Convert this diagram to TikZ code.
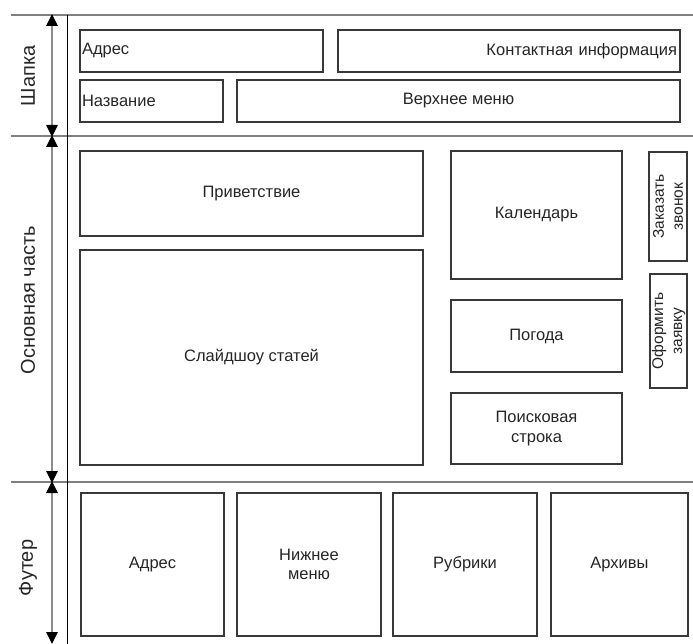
\documentclass[tikz,border=0pt]{standalone}
\usepackage{fontspec}
\setmainfont{Liberation Sans}
\usetikzlibrary{arrows.meta}
\begin{document}
\begin{tikzpicture}[x=1pt,y=-1pt,
  box/.style={draw=black!78, line width=1.6pt, fill=white, inner sep=2pt, font=\fontsize{16.5}{19.5}\selectfont, text=black!85},
  vbox/.style={box, rotate=90, inner sep=0pt, align=center, font=\fontsize{15.5}{19}\selectfont},
  sep/.style={draw=black!50, line width=1.6pt},
  vline/.style={draw=black, line width=1pt},
  dim/.style={draw=black!45, line width=2.6pt, {Triangle[black,length=12pt,width=11pt]}-{Triangle[black,length=12pt,width=11pt]}, shorten <=-1pt, shorten >=-1pt},
  side/.style={rotate=90, font=\fontsize{20}{22}\selectfont, text=black!85}]
\useasboundingbox (0,0) rectangle (693,644);
% separators
\coordinate (s1a) at (11,15);  \coordinate (s1b) at (693,15);
\coordinate (s2a) at (11,136); \coordinate (s2b) at (693,136);
\coordinate (s3a) at (11,482); \coordinate (s3b) at (693,482);
\coordinate (va) at (67,15); \coordinate (vb) at (67,644);
\draw[sep] (s1a) -- (s1b);
\draw[sep] (s2a) -- (s2b);
\draw[sep] (s3a) -- (s3b);
\draw[vline] (va) -- (vb);
% dimension arrows
\coordinate (a1) at (52,15);
\coordinate (a2) at (52,136);
\coordinate (a3) at (52,482);
\coordinate (a4) at (52,643);
\draw[dim] (a1) -- (a2);
\draw[dim] (a2) -- (a3);
\draw[dim] (a3) -- (a4);
% side labels
\node[side] (l1) at (28,76) {Шапка};
\node[side] (l2) at (28,300) {Основная часть};
\node[side] (l3) at (28,568) {Футер};
% header
\node[box, minimum width=243, minimum height=42, text width=239, align=left] (adr1) at (201.5,51) {Адрес};
\node[box, minimum width=342, minimum height=42, text width=336, align=right] (kont) at (509,51) {Контактная информация};
\node[box, minimum width=143, minimum height=42, text width=139, align=left] (nazv) at (151.5,101) {Название};
\node[box, minimum width=443, minimum height=42] (vmenu) at (458.5,101) {Верхнее меню};
% main
\node[box, minimum width=343, minimum height=85] (priv) at (251.5,193.5) {Приветствие};
\node[box, minimum width=343, minimum height=215] (slide) at (251.5,357.5) {Слайдшоу статей};
\node[box, minimum width=171, minimum height=128] (kal) at (536.5,215) {Календарь};
\node[box, minimum width=171, minimum height=72] (pog) at (536.5,336) {Погода};
\node[box, minimum width=171, minimum height=71, align=center] (poisk) at (536.5,428.5) {Поисковая\\строка};
\node[vbox, minimum width=109, minimum height=38] (zak) at (668,206.5) {Заказать\\звонок};
\node[vbox, minimum width=114, minimum height=37] (oform) at (668.5,331) {Оформить\\заявку};
% footer
\node[box, minimum width=143, minimum height=143] (adr2) at (152.5,564.5) {Адрес};
\node[box, minimum width=144, minimum height=143, align=center] (nizh) at (309,564.5) {Нижнее\\меню};
\node[box, minimum width=144, minimum height=143] (rubr) at (465,564.5) {Рубрики};
\node[box, minimum width=137, minimum height=143] (arh) at (619.5,564.5) {Архивы};
\end{tikzpicture}
\end{document}
